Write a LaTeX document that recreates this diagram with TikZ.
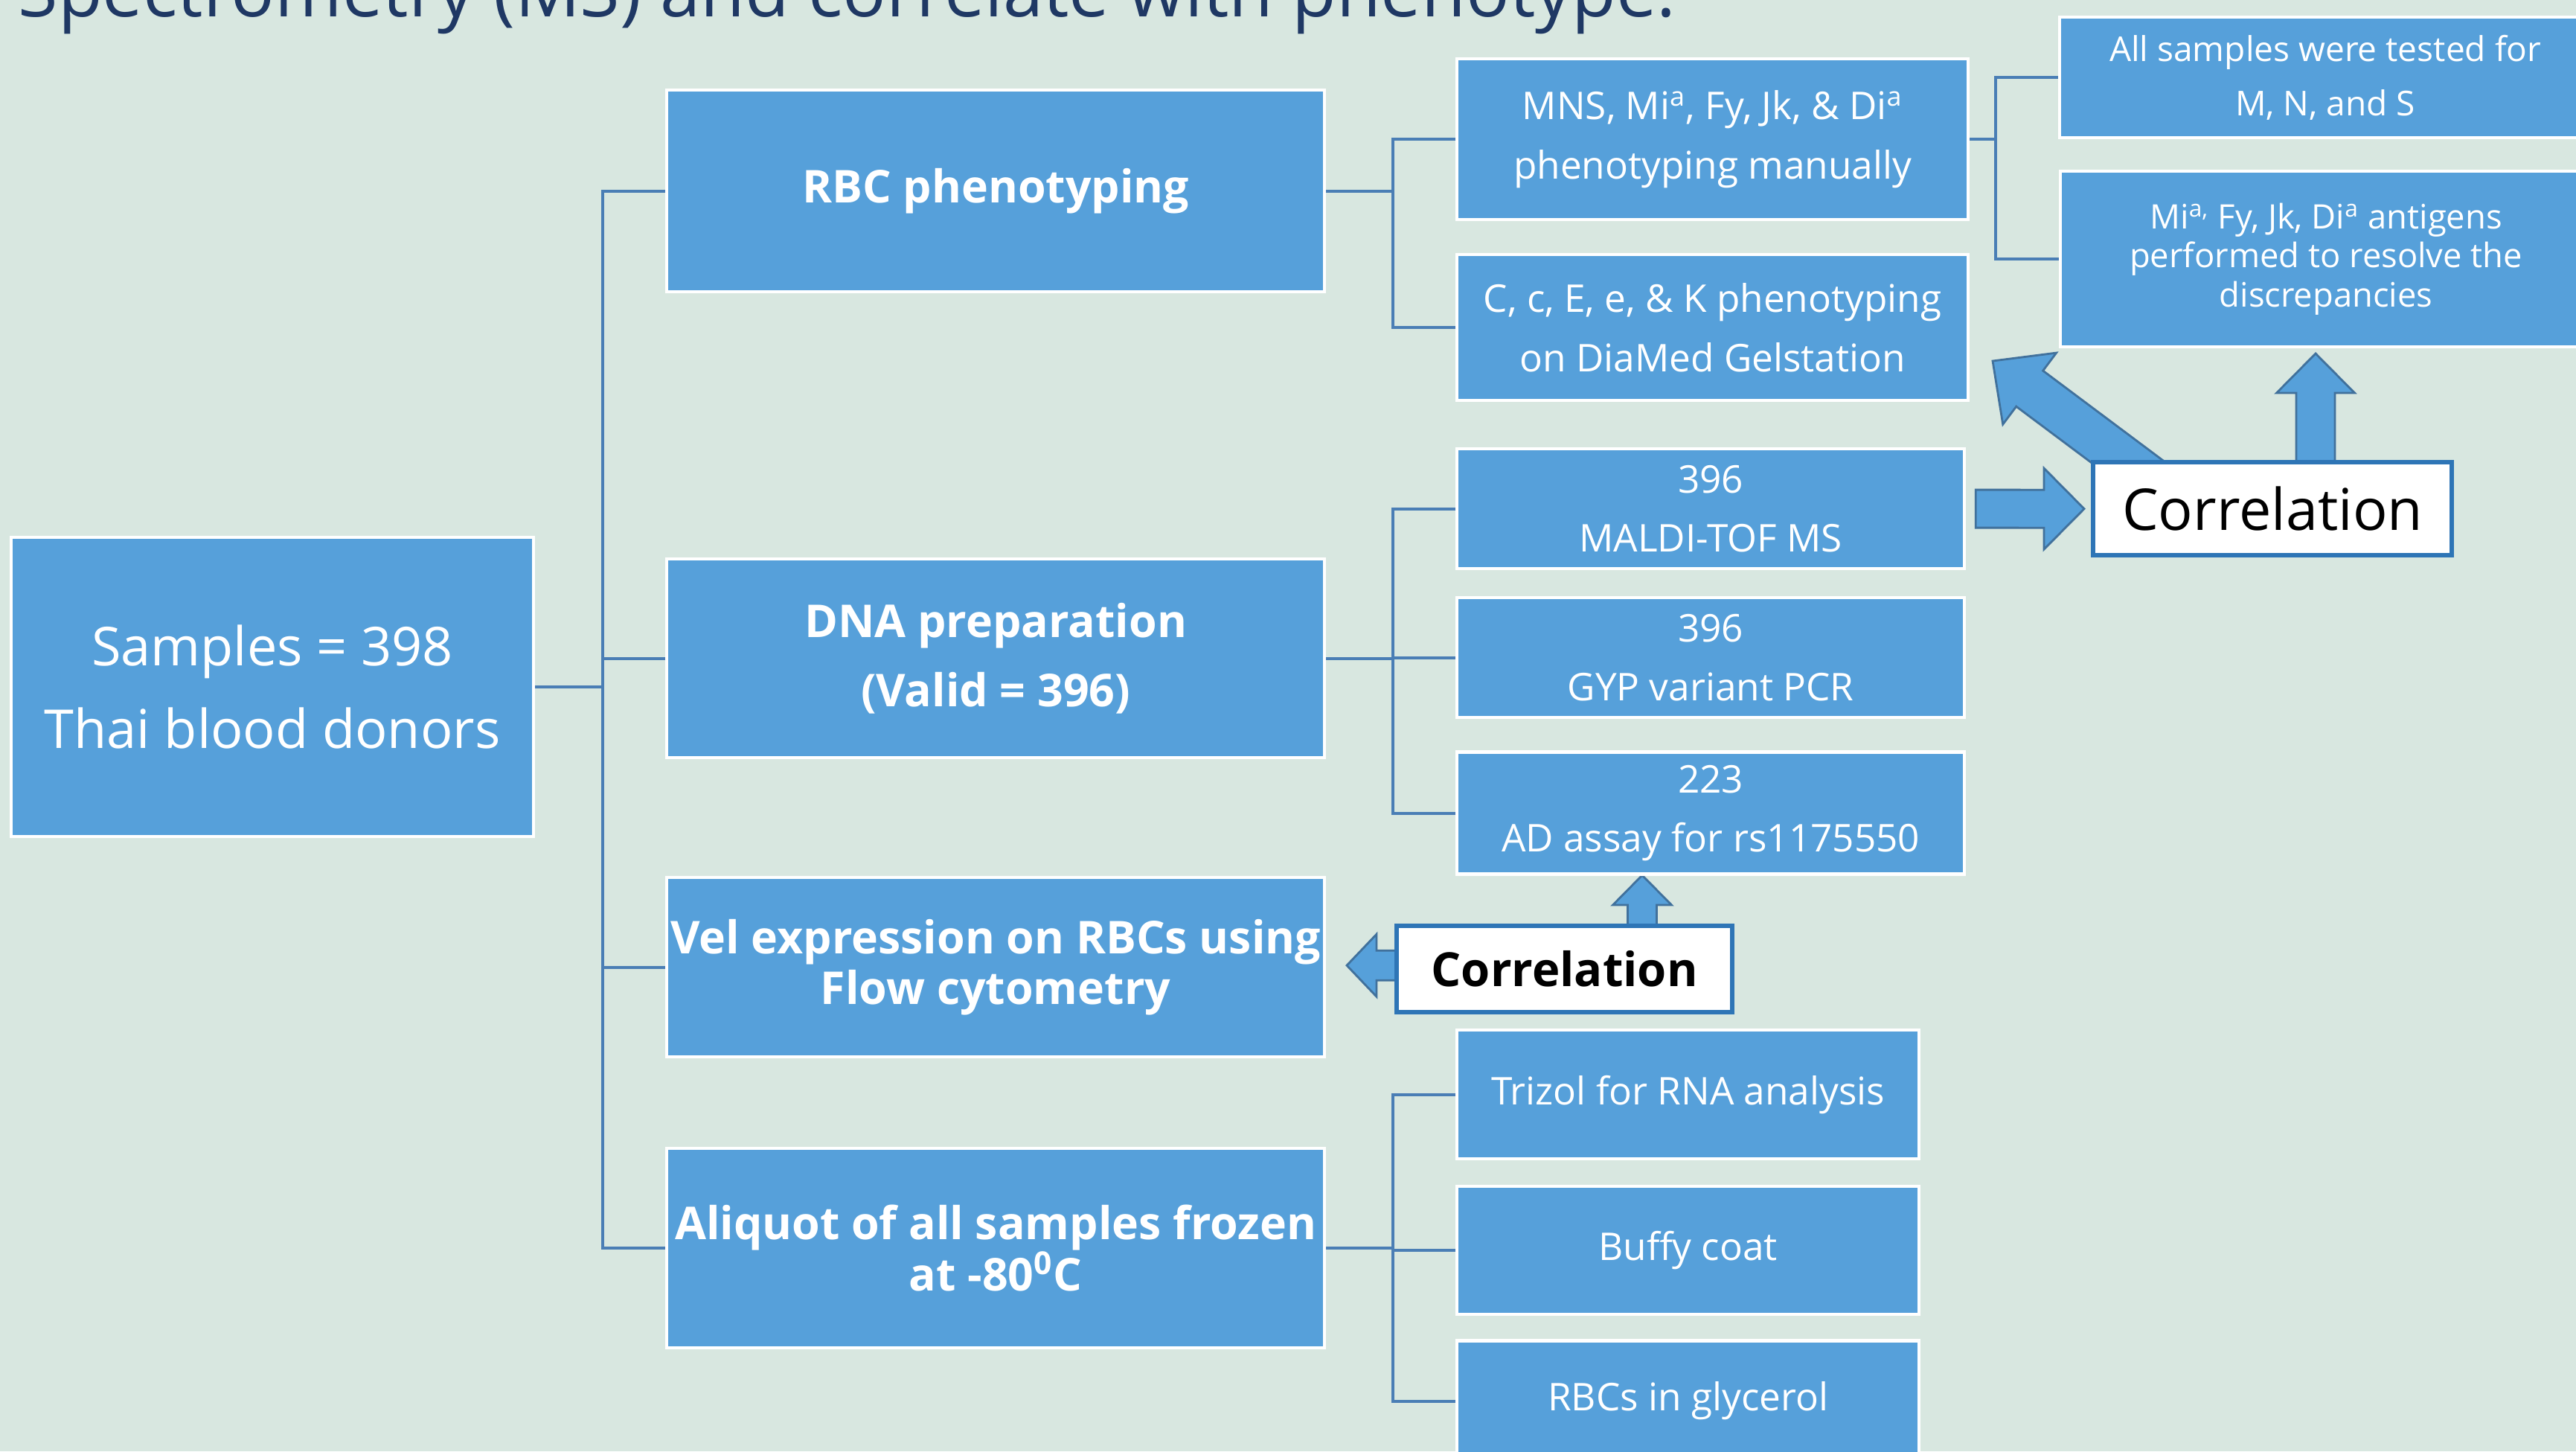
\documentclass[tikz,border=0pt]{standalone}
\usepackage{fontspec}
\setmainfont{Open Sans}
\usetikzlibrary{positioning,calc}
\definecolor{slidebg}{HTML}{D8E7E0}
\definecolor{boxblue}{HTML}{56A0DA}
\definecolor{linkblue}{HTML}{4A7EB5}
\definecolor{arrowedge}{HTML}{41719C}
\definecolor{corredge}{HTML}{2E75B6}
\definecolor{titlenavy}{HTML}{1F3864}
\pgfdeclarelayer{bg}
\pgfdeclarelayer{arrows}
\pgfsetlayers{bg,arrows,main}
% block arrow: start, tip, shaft half width, head half width, head length
\newcommand{\blockarrow}[5]{%
  \coordinate (ba-h) at ($(#2)!#5!(#1)$);
  \draw[barrow] ($(#1)!#3!90:(#2)$) -- ($(ba-h)!#3!90:(#2)$) -- ($(ba-h)!#4!90:(#2)$) -- (#2)
    -- ($(ba-h)!#4!-90:(#2)$) -- ($(ba-h)!#3!-90:(#2)$) -- ($(#1)!#3!-90:(#2)$) -- cycle;}

\begin{document}
\begin{tikzpicture}[
  node distance=3mm,
  box/.style={draw=white, line width=1.2pt, fill=boxblue, text=white, align=center,
              inner sep=0pt, anchor=north west},
  mainbox/.style={box, font=\bfseries\fontsize{17.3}{19.5}\selectfont, minimum width=8.84cm},
  subbox/.style={box, font=\fontsize{14.6}{22.6}\selectfont},
  corrbox/.style={draw=corredge, line width=1.8pt, fill=white, text=black, inner sep=0pt,
                  anchor=north west},
  link/.style={draw=linkblue, line width=1.1pt},
  barrow/.style={fill=boxblue, draw=arrowedge, line width=0.8pt, line join=miter}]
  \useasboundingbox (0,0) rectangle (34.62,-19.50);
  \begin{pgfonlayer}{bg}
    \fill[slidebg] (0,0) rectangle (34.62,-19.50);
  \end{pgfonlayer}

  \node[anchor=base west, inner sep=0pt, text=titlenavy, font=\fontsize{27.7}{32}\selectfont]
    (title) at (0.24,-0.22) {Spectrometry (MS) and correlate with phenotype.};

  % donors and the four work streams
  \node[box, minimum width=7.02cm, minimum height=4.02cm, font=\fontsize{20.5}{31.5}\selectfont]
    (samples) at (0.13,-7.20) {Samples = 398\\Thai blood donors};
  \node[mainbox, minimum height=2.71cm] (rbc) at (8.94,-1.19) {RBC phenotyping};
  \node[mainbox, minimum height=2.67cm, font=\bfseries\fontsize{17.3}{26.5}\selectfont]
    (dna) at (8.94,-7.49) {DNA preparation\\(Valid = 396)};
  \node[mainbox, minimum height=2.41cm] (vel) at (8.94,-11.77) {Vel expression on RBCs using\\Flow cytometry};
  \node[mainbox, minimum height=2.68cm] (aliq) at (8.94,-15.41) {Aliquot of all samples frozen\\at -80\textsuperscript{0}C};

  % phenotyping
  \node[subbox, minimum width=6.87cm, minimum height=2.16cm] (mns) at (19.56,-0.77)
    {MNS, Mi\textsuperscript{a}, Fy, Jk, \& Di\textsuperscript{a}\\phenotyping manually};
  \node[subbox, minimum width=6.87cm, minimum height=1.96cm, below=0.43 of mns] (rhk)
    {C, c, E, e, \& K phenotyping\\on DiaMed Gelstation};
  \node[subbox, minimum width=7.14cm, minimum height=1.62cm, font=\fontsize{13.1}{20.7}\selectfont]
    (allmns) at (27.66,-0.21) {All samples were tested for\\M, N, and S};
  \node[subbox, minimum width=7.14cm, minimum height=2.36cm, font=\fontsize{12.9}{15}\selectfont]
    (mia) at (27.67,-2.28) {Mi\textsuperscript{a,} Fy, Jk, Di\textsuperscript{a} antigens\\performed to resolve the\\discrepancies};

  % genotyping
  \node[subbox, minimum width=6.82cm, minimum height=1.61cm] (maldi) at (19.56,-6.01) {396\\MALDI-TOF MS};
  \node[subbox, minimum width=6.82cm, minimum height=1.61cm, below=0.35 of maldi] (gyp) {396\\GYP variant PCR};
  \node[subbox, minimum width=6.82cm, minimum height=1.64cm, below=0.42 of gyp] (ad) {223\\AD assay for rs1175550};

  % storage
  \node[subbox, minimum width=6.21cm, minimum height=1.73cm] (trizol) at (19.56,-13.82) {Trizol for RNA analysis};
  \node[subbox, minimum width=6.21cm, minimum height=1.72cm, below=0.33 of trizol] (buffy) {Buffy coat};
  \node[subbox, minimum width=6.21cm, minimum height=1.62cm, below=0.31 of buffy] (glyc) {RBCs in glycerol};

  \node[corrbox, minimum width=4.82cm, minimum height=1.25cm, font=\fontsize{22}{24}\selectfont]
    (corr1) at (28.10,-6.18) {Correlation};
  \node[corrbox, minimum width=4.51cm, minimum height=1.16cm, font=\bfseries\fontsize{18}{20}\selectfont]
    (corr2) at (18.74,-12.41) {Correlation};

  % tree lines
  \draw[link] (samples.east) -- ++(0.91,0) coordinate (s0);
  \foreach \n in {rbc,dna,vel,aliq} \draw[link] (s0) |- (\n.west);
  \draw[link] (rbc.east) -- ++(0.90,0) coordinate (r0);
  \foreach \n in {mns,rhk} \draw[link] (r0) |- (\n.west);
  \draw[link] (dna.east) -- ++(0.90,0) coordinate (d0);
  \foreach \n in {maldi,gyp,ad} \draw[link] (d0) |- (\n.west);
  \draw[link] (aliq.east) -- ++(0.90,0) coordinate (q0);
  \foreach \n in {trizol,buffy,glyc} \draw[link] (q0) |- (\n.west);
  \draw[link] (mns.east) -- ++(0.35,0) coordinate (m0);
  \foreach \n in {allmns,mia} \draw[link] (m0) |- (\n.west);

  % correlation arrows
  \begin{pgfonlayer}{arrows}
    \coordinate (a1s) at ($(maldi.east)+(0.13,0)$);
    \coordinate (a1t) at ($(corr1.west)+(-0.09,0)$);
    \blockarrow{a1s}{a1t}{0.255cm}{0.545cm}{0.54cm}
    \coordinate (a2s) at ($(corr1.north west)+(3.02,-0.05)$);
    \coordinate (a2t) at ($(corr1.north west)+(3.02,1.43)$);
    \blockarrow{a2s}{a2t}{0.26cm}{0.525cm}{0.53cm}
    \coordinate (a3s) at ($(corr1.north west)+(0.86,-0.30)$);
    \coordinate (a3t) at ($(corr1.north west)+(-1.32,1.33)$);
    \blockarrow{a3s}{a3t}{0.30cm}{0.60cm}{0.62cm}
    \coordinate (a4s) at ($(corr2.west)+(0.05,0.05)$);
    \coordinate (a4t) at ($(corr2.west)+(-0.64,0.05)$);
    \blockarrow{a4s}{a4t}{0.20cm}{0.42cm}{0.40cm}
    \coordinate (a5s) at ($(corr2.north west)+(3.33,-0.05)$);
    \coordinate (a5t) at ($(corr2.north west)+(3.33,0.65)$);
    \blockarrow{a5s}{a5t}{0.195cm}{0.395cm}{0.40cm}
  \end{pgfonlayer}
\end{tikzpicture}
\end{document}
